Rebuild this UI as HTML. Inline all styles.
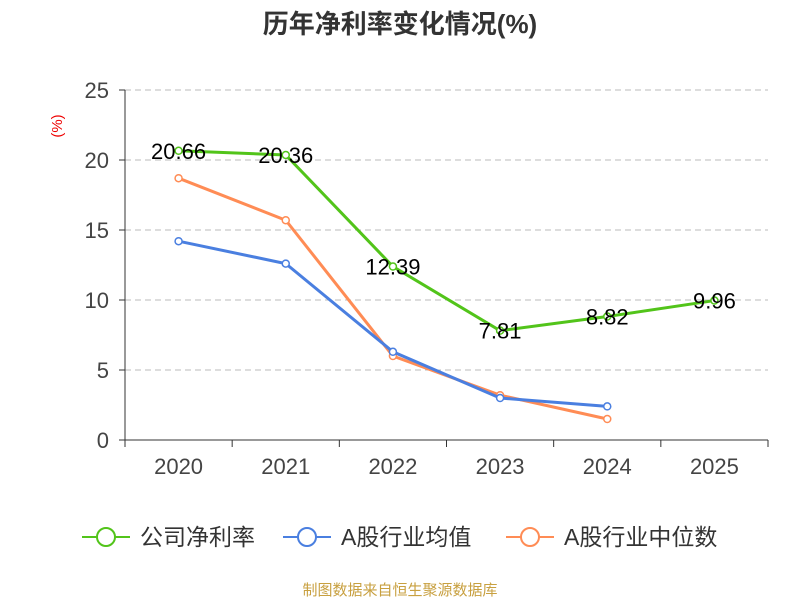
<!DOCTYPE html>
<html><head><meta charset="utf-8"><style>
body{margin:0;background:#fff;}
svg text{font-family:"Liberation Sans","Noto Sans CJK SC",sans-serif;}
</style></head><body>
<svg id="chart" width="800" height="600" xmlns="http://www.w3.org/2000/svg">
<text x="400" y="33" text-anchor="middle" font-size="26" font-weight="bold" fill="#333">历年净利率变化情况(%)</text>
<text x="62" y="126" text-anchor="middle" font-size="15" fill="#e00" transform="rotate(-90 62 126)">(%)</text>
<g id="grid"></g><g id="axes"></g><g id="series"></g>
<g>
<g><line x1="82" y1="537" x2="130" y2="537" stroke="#52c41a" stroke-width="2"/><circle cx="106" cy="537" r="9" fill="#fff" stroke="#52c41a" stroke-width="2"/><text x="140" y="545" font-size="23" fill="#333">公司净利率</text></g>
<g><line x1="283" y1="537" x2="331" y2="537" stroke="#4a7fe0" stroke-width="2"/><circle cx="307" cy="537" r="9" fill="#fff" stroke="#4a7fe0" stroke-width="2"/><text x="341" y="545" font-size="23" fill="#333">A股行业均值</text></g>
<g><line x1="506" y1="537" x2="554" y2="537" stroke="#ff8c55" stroke-width="2"/><circle cx="530" cy="537" r="9" fill="#fff" stroke="#ff8c55" stroke-width="2"/><text x="564" y="545" font-size="23" fill="#333">A股行业中位数</text></g>
</g>
<text x="400" y="595" text-anchor="middle" font-size="15" fill="#c8a040">制图数据来自恒生聚源数据库</text>
</svg>
<script>
const categories=["2020","2021","2022","2023","2024","2025"];
const netMargin=[20.66,20.36,12.39,7.81,8.82,9.96];
const industryAvg=[14.2,12.6,6.3,3.0,2.4];
const industryMedian=[18.7,15.7,6.0,3.2,1.5];
const yTicks=[0,5,10,15,20,25];
const NS="http://www.w3.org/2000/svg";
const x0=125,x1=768,yBase=440,yTop=90,yMax=25;
const band=(x1-x0)/categories.length;
const X=i=>x0+band*(i+0.5);
const Y=v=>yBase-(v/yMax)*(yBase-yTop);
function mk(tag,attrs,parent){const e=document.createElementNS(NS,tag);for(const k in attrs)e.setAttribute(k,attrs[k]);parent.appendChild(e);return e;}
const grid=document.getElementById('grid'),axes=document.getElementById('axes'),ser=document.getElementById('series');
yTicks.forEach(t=>{
 if(t>0){const l=mk('line',{x1:x0,x2:x1,y1:Y(t),y2:Y(t),stroke:'#bbb','stroke-dasharray':'6,4'},grid);
 
 }
 mk('line',{x1:x0-6,x2:x0,y1:Y(t),y2:Y(t),stroke:'#333'},axes);
 const tx=mk('text',{x:x0-16,y:Y(t)+8,'text-anchor':'end','font-size':22,fill:'#444'},axes);tx.textContent=t;
 
 
});
mk('line',{x1:x0,x2:x0,y1:yTop,y2:yBase,stroke:'#333'},axes);
mk('line',{x1:x0,x2:x1,y1:yBase,y2:yBase,stroke:'#333'},axes);
for(let i=0;i<=categories.length;i++)mk('line',{x1:x0+band*i,x2:x0+band*i,y1:yBase,y2:yBase+7,stroke:'#333'},axes);
categories.forEach((c,i)=>{const t=mk('text',{x:X(i),y:yBase+34,'text-anchor':'middle','font-size':22,fill:'#444'},axes);t.textContent=c;
 
 });
function line(data,color,name,labels){
 const g=mk('g',{},ser);
 
 
 mk('polyline',{points:data.map((v,i)=>X(i)+','+Y(v)).join(' '),fill:'none',stroke:color,'stroke-width':3},g);
 data.forEach((v,i)=>{const c=mk('circle',{cx:X(i),cy:Y(v),r:3.5,fill:'#fff',stroke:color,'stroke-width':1.5},g);
  
  
  if(labels){const t=mk('text',{x:X(i),y:Y(v)+8,'text-anchor':'middle','font-size':22,fill:'#000'},g);t.textContent=v.toFixed(2);
   
   }
 });
}
line(industryMedian,'#ff8c55','industry-median-line',false);
line(industryAvg,'#4a7fe0','industry-average-line',false);
line(netMargin,'#52c41a','net-margin-line',true);
</script>
</body></html>
